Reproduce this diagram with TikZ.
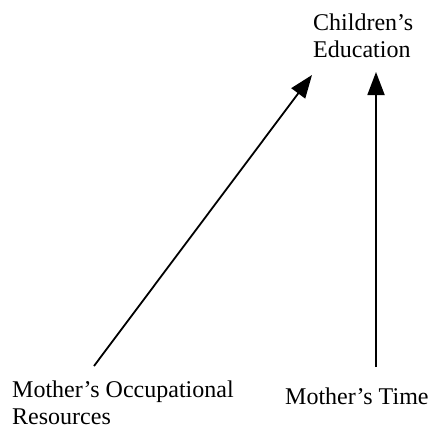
\documentclass[tikz,border=0pt]{standalone}
\usepackage{fontspec}
\setmainfont{Liberation Serif}
\usetikzlibrary{arrows.meta}
\tikzset{
  lbl/.style={anchor=base west, inner sep=0pt, align=left, font=\fontsize{24}{26.5}\selectfont},
  arr/.style={line width=1.8pt, -{Triangle[length=23pt,width=17pt]}}
}
\begin{document}
\begin{tikzpicture}[x=1pt,y=-1pt]
\useasboundingbox (0,0) rectangle (433,428);
\node[lbl] (ce) at (313,57) {Children's\\Education};
\node[lbl] (mo) at (12,424) {Mother's Occupational\\Resources};
\node[lbl] (mt) at (285,404) {Mother's Time};
\coordinate (s1) at (94,366);
\coordinate (t1) at (312,75);
\coordinate (s2) at (376,367);
\coordinate (t2) at (376,72);
\draw[arr] (s1) -- (t1);
\draw[arr] (s2) -- (t2);
\end{tikzpicture}
\end{document}
